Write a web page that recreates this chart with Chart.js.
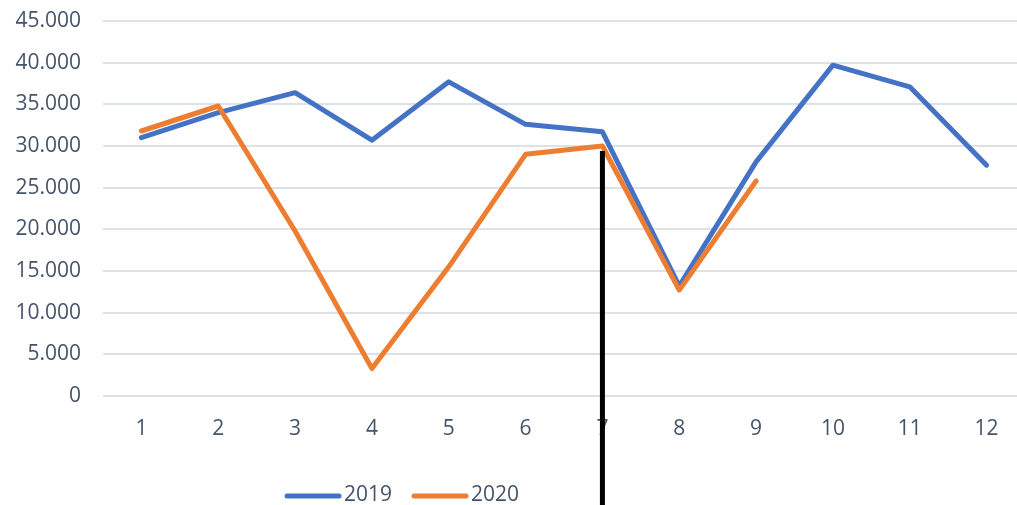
<!DOCTYPE html>
<html lang="en">
<head>
  <meta charset="UTF-8">
  <title>2019 vs 2020</title>
  <script src="https://cdn.jsdelivr.net/npm/chart.js"></script>
  <style>
    html, body { margin: 0; padding: 0; overflow: hidden; background: #fff; }
  </style>
</head>
<body>
  <div style="width: 1025px; height: 505px;">
    <canvas id="yearChart"></canvas>
  </div>

  <script>
    // Data
    const months = ['1', '2', '3', '4', '5', '6', '7', '8', '9', '10', '11', '12'];
    const values2019 = [31000, 34000, 36400, 30700, 37700, 32600, 31700, 13200, 28100, 39700, 37100, 27700];
    const values2020 = [31800, 34800, 19800, 3300, 15500, 29000, 30000, 12700, 25800, null, null, null];
    const seriesNames = ['2019', '2020'];

    // black marker line at month 7
    const markerMonth = '7';
    const markerTop = 29400;

    const blue = '#4472C4';
    const orange = '#ED7D31';
    const textColor = '#44546A';
    const font = { family: 'Open Sans', size: 21 };

    // marker + legend drawn by hand
    const extras = {
      id: 'extras',
      afterDatasetsDraw(chart) {
        const ctx = chart.ctx;
        const x = chart.scales.x.getPixelForValue(months.indexOf(markerMonth));
        const top = chart.scales.y.getPixelForValue(markerTop);
        ctx.save();
        ctx.strokeStyle = '#000';
        ctx.lineWidth = 5;
        ctx.beginPath();
        ctx.moveTo(x, top);
        ctx.lineTo(x, chart.height);
        ctx.stroke();

        // legend
        const y = 496;
        const items = [
          { text: seriesNames[0], color: blue, x: 287 },
          { text: seriesNames[1], color: orange, x: 414 }
        ];
        ctx.font = '21px "Open Sans"';
        ctx.textBaseline = 'middle';
        ctx.textAlign = 'left';
        ctx.lineCap = 'round';
        items.forEach(it => {
          ctx.strokeStyle = it.color;
          ctx.lineWidth = 5;
          ctx.beginPath();
          ctx.moveTo(it.x, y);
          ctx.lineTo(it.x + 52, y);
          ctx.stroke();
          ctx.fillStyle = textColor;
          ctx.fillText(it.text, it.x + 57, y - 1);
        });
        ctx.restore();
      }
    };

    new Chart(document.getElementById('yearChart'), {
      type: 'line',
      data: {
        labels: months,
        datasets: [
          {
            label: seriesNames[0],
            data: values2019,
            borderColor: blue,
            backgroundColor: blue,
            borderWidth: 5,
            pointRadius: 0,
            borderJoinStyle: 'round',
            borderCapStyle: 'round',
            order: 1
          },
          {
            label: seriesNames[1],
            data: values2020,
            borderColor: orange,
            backgroundColor: orange,
            borderWidth: 5,
            pointRadius: 0,
            borderJoinStyle: 'round',
            borderCapStyle: 'round',
            order: 0
          }
        ]
      },
      options: {
        responsive: true,
        maintainAspectRatio: false,
        animation: false,
        layout: { padding: { top: 21, right: 0, bottom: 0, left: 0 } },
        scales: {
          x: {
            offset: true,
            grid: { display: false, drawTicks: false },
            border: { display: false },
            ticks: { color: textColor, font: font, padding: 20, maxRotation: 0 },
            afterFit(scale) { scale.height = 109; }
          },
          y: {
            min: 0,
            max: 45000,
            grid: { color: '#DDE1E8', lineWidth: 2, drawTicks: false },
            border: { display: false },
            ticks: {
              stepSize: 5000,
              color: textColor,
              font: font,
              padding: 22,
              callback: v => v.toLocaleString('de-DE')
            },
            // fixed axis width, no extra room for the top label
            afterFit(scale) { scale.width = 103; scale.paddingTop = 0; scale.paddingBottom = 0; }
          }
        },
        plugins: {
          legend: { display: false },
          tooltip: { enabled: false }
        }
      },
      plugins: [extras]
    });
  </script>
</body>
</html>
